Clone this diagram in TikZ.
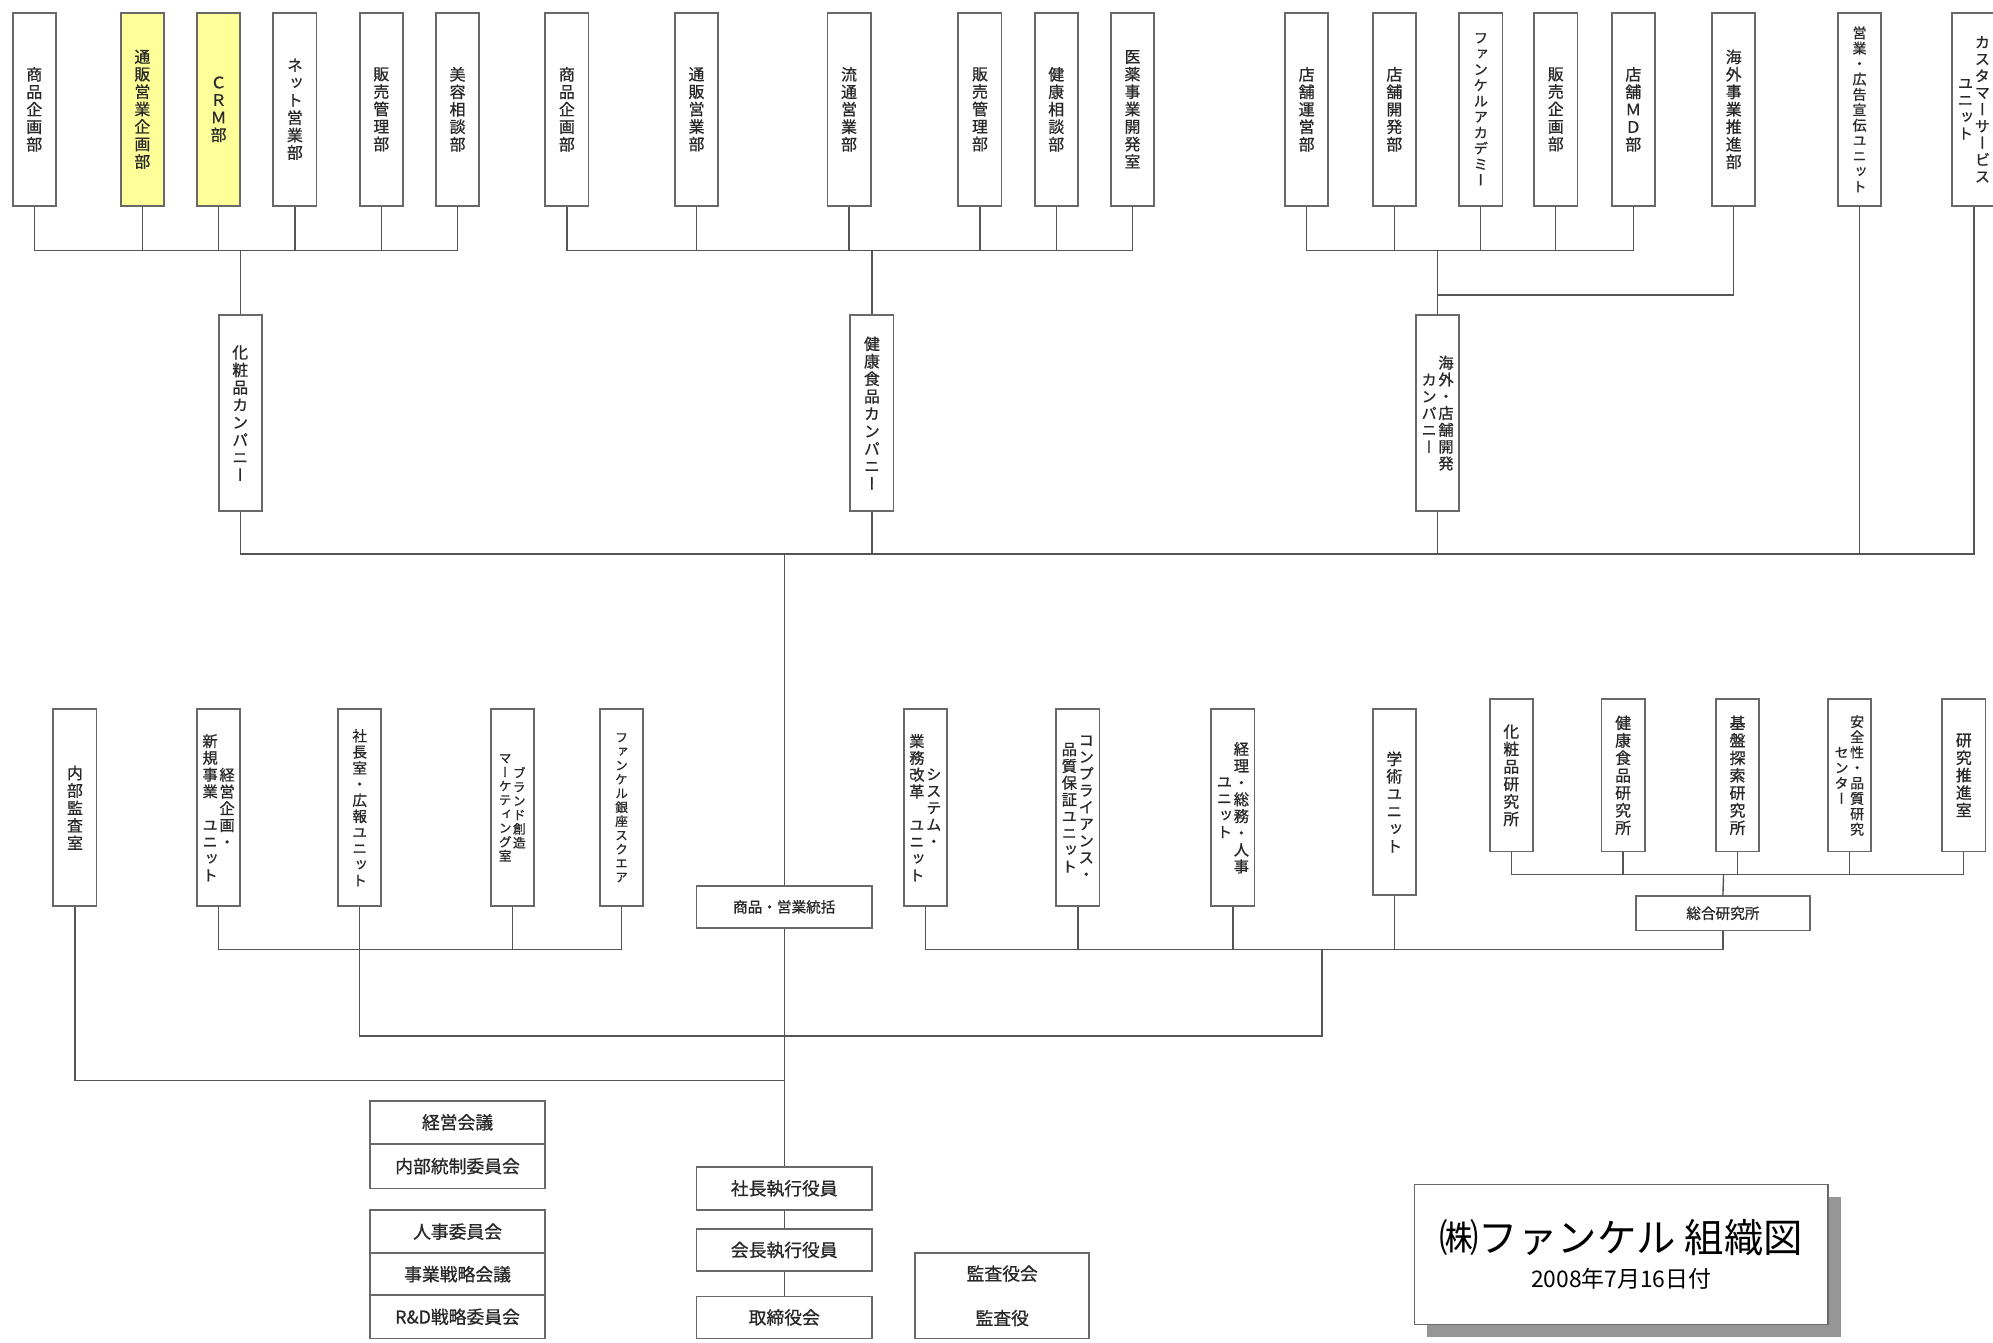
\documentclass[tikz,border=0pt]{standalone}
\usepackage{fontspec}
\usetikzlibrary{shadows}
\newfontfamily\jpt{Noto Sans CJK JP}
\newfontfamily\jp[FakeBold=0.8]{Noto Sans CJK JP}
\newfontfamily\jpv[RawFeature=+vert,FakeBold=0.8]{Noto Sans CJK JP}
\let\vcolend\relax
\def\vcolaux#1{\ifx#1\vcolend\else\hbox to 1.06em{\hss#1\hss}\expandafter\vcolaux\fi}
\newcommand\vcolbox[1]{\vbox{\baselineskip=1.1em\lineskiplimit=-100pt\lineskip=0pt\vcolaux#1\vcolend}}
\newcommand\V[2][12.5]{\jpv\fontsize{#1}{#1}\selectfont\vcolbox{#2}}
\newcommand\VV[3][12]{\jpv\fontsize{#1}{#1}\selectfont\hbox{$\vcenter{\vcolbox{#3}}\kern0.05em\vcenter{\vcolbox{#2}}$}}
\definecolor{lncol}{RGB}{85,85,85}
\definecolor{bxcol}{RGB}{105,105,105}
\definecolor{txtcol}{RGB}{40,40,40}
\definecolor{ylw}{RGB}{255,255,153}
\definecolor{shadowgray}{RGB}{150,150,150}
\tikzset{
  ln/.style={draw=lncol, line width=1.1pt},
  vb/.style={draw=bxcol, line width=1.4pt, fill=white, minimum width=34pt, inner sep=0pt, text=txtcol},
  yb/.style={vb, fill=ylw},
  hb/.style={draw=bxcol, line width=1.4pt, fill=white, minimum width=138pt, minimum height=34pt, inner sep=0pt, text=txtcol, font=\jp\fontsize{14}{16}\selectfont},
  hbs/.style={hb, font=\jp\fontsize{11.5}{13}\selectfont},
}
\begin{document}
\begin{tikzpicture}[x=1pt,y=-1pt]
\fill[white] (0,0) rectangle (1568,1056);
\useasboundingbox (0,0) rectangle (1568,1056);

% ---------- top row, group 1
\node[vb,minimum height=152pt] (a1) at (27,86) {\V{商品企画部}};
\node[yb,minimum height=152pt] (a2) at (112,86) {\V{通販営業企画部}};
\node[yb,minimum height=152pt] (a3) at (172,86) {\V{ＣＲＭ部}};
\node[vb,minimum height=152pt] (a4) at (232,86) {\V{ネット営業部}};
\node[vb,minimum height=152pt] (a5) at (300,86) {\V{販売管理部}};
\node[vb,minimum height=152pt] (a6) at (360,86) {\V{美容相談部}};
% group 2
\node[vb,minimum height=152pt] (b1) at (446,86) {\V{商品企画部}};
\node[vb,minimum height=152pt] (b2) at (548,86) {\V{通販営業部}};
\node[vb,minimum height=152pt] (b3) at (668,86) {\V{流通営業部}};
\node[vb,minimum height=152pt] (b4) at (771,86) {\V{販売管理部}};
\node[vb,minimum height=152pt] (b5) at (831,86) {\V{健康相談部}};
\node[vb,minimum height=152pt] (b6) at (891,86) {\V{医薬事業開発室}};
% group 3
\node[vb,minimum height=152pt] (c1) at (1028,86) {\V{店舗運営部}};
\node[vb,minimum height=152pt] (c2) at (1097,86) {\V{店舗開発部}};
\node[vb,minimum height=152pt] (c3) at (1165,86) {\V[11.3]{ファンケルアカデミー}};
\node[vb,minimum height=152pt] (c4) at (1224,86) {\V{販売企画部}};
\node[vb,minimum height=152pt] (c5) at (1285,86) {\V{店舗ＭＤ部}};
\node[vb,minimum height=152pt] (c6) at (1364,86) {\V{海外事業推進部}};
\node[vb,minimum height=152pt] (c7) at (1463,86) {\V[11]{営業・広告宣伝ユニット}};
\node[vb,minimum height=152pt] (c8) at (1553,86) {\VV{カスタマーサービス}{ユニット}};

% companies
\node[vb,minimum height=154pt] (k1) at (189,325) {\V{化粧品カンパニー}};
\node[vb,minimum height=154pt] (k2) at (686,325) {\V{健康食品カンパニー}};
\node[vb,minimum height=154pt] (k3) at (1131,325) {\VV{海外・店舗開発}{カンパニー}};

% lower left
\node[vb,minimum height=155pt] (l1) at (59,635.5) {\V{内部監査室}};
\node[vb,minimum height=155pt] (l2) at (172,635.5) {\VV{経営企画・}{新規事業　ユニット}};
\node[vb,minimum height=155pt] (l3) at (283,635.5) {\V[11.5]{社長室・広報ユニット}};
\node[vb,minimum height=155pt] (l4) at (403,635.5) {\VV[10]{ブランド創造}{マーケティング室}};
\node[vb,minimum height=155pt] (l5) at (489,635.5) {\V[10]{ファンケル銀座スクエア}};
% lower middle
\node[vb,minimum height=155pt] (m1) at (728,635.5) {\VV{システム・}{業務改革　ユニット}};
\node[vb,minimum height=155pt] (m2) at (848,635.5) {\VV{コンプライアンス・}{品質保証ユニット}};
\node[vb,minimum height=155pt] (m3) at (970,635.5) {\VV{経理・総務・人事}{ユニット}};
\node[vb,minimum height=146pt] (m4) at (1097,631) {\V{学術ユニット}};
% research
\node[vb,minimum height=120pt] (r1) at (1189,610) {\V{化粧品研究所}};
\node[vb,minimum height=120pt] (r2) at (1277,610) {\V{健康食品研究所}};
\node[vb,minimum height=120pt] (r3) at (1367,610) {\V{基盤探索研究所}};
\node[vb,minimum height=120pt] (r4) at (1455,610) {\VV[11]{安全性・品質研究}{センター}};
\node[vb,minimum height=120pt] (r5) at (1545,610) {\V{研究推進室}};
\node[hbs,minimum width=137pt,minimum height=27pt] (zr) at (1355.5,718.5) {総合研究所};
\node[hbs,minimum height=33pt] (s0) at (617,713.5) {商品・営業統括};

% bottom
\node[hb] (q1) at (360,883) {経営会議};
\node[hb,minimum height=35pt] (q2) at (360,917.5) {内部統制委員会};
\node[hb] (q3) at (360,969) {人事委員会};
\node[hb,minimum height=33pt] (q4) at (360,1002.5) {事業戦略会議};
\node[hb] (q5) at (360,1036) {R\&D戦略委員会};
\node[hb] (p1) at (617,935) {社長執行役員};
\node[hb,minimum height=33pt] (p2) at (617,983.5) {会長執行役員};
\node[hb,minimum height=33pt] (p3) at (617,1036.5) {取締役会};
\node[hb,minimum width=137pt,minimum height=67pt,align=center] (au) at (788.5,1019.5) {監査役会\\[19pt]監査役};

% title
\node[draw=bxcol,line width=1.2pt,fill=white,minimum width=325pt,minimum height=110pt,align=center,text=black,
  drop shadow={shadow xshift=10pt,shadow yshift=-10pt,fill=shadowgray,opacity=1}] (tt) at (1275.5,987)
  {{\jpt\fontsize{31}{36}\selectfont ㈱ファンケル 組織図}\\[9pt]{\jpt\fontsize{18}{20}\selectfont 2008年7月16日付}};

% ---------- connectors
\coordinate (g1) at (189,197);
\coordinate (g2) at (686,197);
\coordinate (g3) at (1131,197);
\coordinate (g3b) at (1131,232);
\coordinate (mb) at (617,436);
\coordinate (lb) at (283,747);
\coordinate (jt) at (1040,747);
\coordinate (jb) at (1040,815);
\coordinate (rb) at (1356,688);
\coordinate (ab) at (617,850);

\draw[ln] (a1.south) -- (a1.south |- g1) -- (a6.south |- g1) -- (a6.south);
\foreach \n in {a2,a3,a4,a5} \draw[ln] (\n.south) -- (\n.south |- g1);
\draw[ln] (g1) -- (k1.north);

\draw[ln] (b1.south) -- (b1.south |- g2) -- (b6.south |- g2) -- (b6.south);
\foreach \n in {b2,b3,b4,b5} \draw[ln] (\n.south) -- (\n.south |- g2);
\draw[ln] (g2) -- (k2.north);

\draw[ln] (c1.south) -- (c1.south |- g3) -- (c5.south |- g3) -- (c5.south);
\foreach \n in {c2,c3,c4} \draw[ln] (\n.south) -- (\n.south |- g3);
\draw[ln] (g3) -- (k3.north);
\draw[ln] (c6.south) |- (g3b);

\draw[ln] (k1.south) -- (k1.south |- mb) -- (c8.south |- mb) -- (c8.south);
\foreach \n in {k2,k3,c7} \draw[ln] (\n.south) -- (\n.south |- mb);
\draw[ln] (mb) -- (s0.north);
\draw[ln] (s0.south) -- (p1.north);
\draw[ln] (p1.south) -- (p2.north);
\draw[ln] (p2.south) -- (p3.north);

\draw[ln] (l2.south) -- (l2.south |- lb) -- (l5.south |- lb) -- (l5.south);
\draw[ln] (l4.south) -- (l4.south |- lb);
\draw[ln] (l3.south) |- (jb) -- (jt);

\draw[ln] (m1.south) -- (m1.south |- jt) -- (zr.south |- jt) -- (zr.south);
\foreach \n in {m2,m3,m4} \draw[ln] (\n.south) -- (\n.south |- jt);

\draw[ln] (r1.south) -- (r1.south |- rb) -- (r5.south |- rb) -- (r5.south);
\foreach \n in {r2,r3,r4} \draw[ln] (\n.south) -- (\n.south |- rb);
\draw[ln] (rb) -- (zr.north);

\draw[ln] (l1.south) |- (ab);
\end{tikzpicture}
\end{document}
